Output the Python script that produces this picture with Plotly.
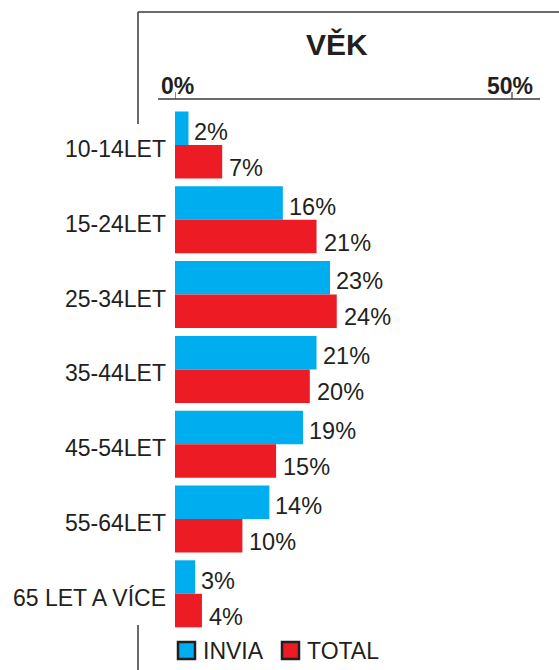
import plotly.graph_objects as go

categories = ["10-14LET", "15-24LET", "25-34LET", "35-44LET", "45-54LET", "55-64LET", "65 LET A VÍCE"]
invia = [2, 16, 23, 21, 19, 14, 3]
total = [7, 21, 24, 20, 15, 10, 4]
axis_ticks = [0, 50]
axis_tick_text = ["0%", "50%"]
series_names = ["INVIA", "TOTAL"]

W, H = 559, 670
BLUE = "#00aeef"
RED = "#ed1c24"
TXT = "#231f20"
LINE = "#3a3a3a"
FONT = "Liberation Sans, Arial, Helvetica, sans-serif"

def px(x):
    return x / W

def py(y):
    return 1 - y / H

# scale: 0% at 175px, 50% at 512px
x0_px, x50_px = 175, 512
ppu = (x50_px - x0_px) / 50.0
xmax = (W - x0_px) / ppu

# y: category 0 centre at 145px, pitch 74.8px
c0, pitch = 145, 74.8
y_top = 0 - c0 / pitch
y_bot = 6 + (H - (c0 + 6 * pitch)) / pitch

ypos = list(range(len(categories)))

fig = go.Figure()
fig.add_trace(go.Bar(orientation="h", x=invia, y=ypos, name=series_names[0],
                     marker=dict(color=BLUE, line=dict(width=0))))
fig.add_trace(go.Bar(orientation="h", x=total, y=ypos, name=series_names[1],
                     marker=dict(color=RED, line=dict(width=0))))

bargap = 0.104
half = (1 - bargap) / 4

annotations = []
for i, v in enumerate(invia):
    annotations.append(dict(x=v, y=i - half, xref="x", yref="y", text=f"{v}%",
                            showarrow=False, xanchor="left", yanchor="middle",
                            xshift=4, yshift=-3.5,
                            font=dict(family=FONT, size=23.5, color=TXT)))
for i, v in enumerate(total):
    annotations.append(dict(x=v, y=i + half, xref="x", yref="y", text=f"{v}%",
                            showarrow=False, xanchor="left", yanchor="middle",
                            xshift=5, yshift=-6,
                            font=dict(family=FONT, size=23.5, color=TXT)))

# title
annotations.append(dict(x=px(337), y=py(45), xref="paper", yref="paper", text="<b>VĚK</b>",
                        showarrow=False, xanchor="center", yanchor="middle",
                        font=dict(family=FONT, size=30, color=TXT)))
# axis tick labels
for t, lab in zip(axis_ticks, axis_tick_text):
    annotations.append(dict(x=t, y=py(86), xref="x", yref="paper", text=f"<b>{lab}</b>",
                            showarrow=False, xanchor="center", yanchor="middle",
                            xshift=2 if t == 0 else -2,
                            font=dict(family=FONT, size=23, color=TXT)))
# legend texts
annotations.append(dict(x=px(201), y=py(651), xref="paper", yref="paper", text=series_names[0],
                        showarrow=False, xanchor="left", yanchor="middle",
                        font=dict(family=FONT, size=23, color=TXT)))
annotations.append(dict(x=px(305), y=py(651), xref="paper", yref="paper", text=series_names[1],
                        showarrow=False, xanchor="left", yanchor="middle",
                        font=dict(family=FONT, size=23, color=TXT)))

shapes = []
# frame
shapes.append(dict(type="line", xref="paper", yref="paper", x0=px(138), x1=px(W), y0=py(12), y1=py(12),
                   line=dict(color=LINE, width=1.5)))
shapes.append(dict(type="line", xref="paper", yref="paper", x0=px(138), x1=px(138), y0=py(12), y1=py(124),
                   line=dict(color=LINE, width=1.5)))
shapes.append(dict(type="line", xref="paper", yref="paper", x0=px(138), x1=px(138), y0=py(625), y1=py(H),
                   line=dict(color=LINE, width=1.5)))
# axis line
shapes.append(dict(type="line", xref="paper", yref="paper", x0=px(158), x1=px(540), y0=py(99), y1=py(99),
                   line=dict(color=LINE, width=1.5)))
for t in axis_ticks:
    shapes.append(dict(type="line", xref="x", yref="paper", x0=t, x1=t, y0=py(99), y1=py(92),
                       line=dict(color=LINE, width=1.2)))
# legend boxes
shapes.append(dict(type="rect", xref="paper", yref="paper", x0=px(178), x1=px(195), y0=py(642), y1=py(659),
                   fillcolor=BLUE, line=dict(color=TXT, width=2.5)))
shapes.append(dict(type="rect", xref="paper", yref="paper", x0=px(282), x1=px(299), y0=py(642), y1=py(659),
                   fillcolor=RED, line=dict(color=TXT, width=2.5)))

fig.update_layout(
    width=W, height=H,
    margin=dict(l=0, r=0, t=0, b=0),
    paper_bgcolor="white", plot_bgcolor="white",
    barmode="group", bargap=bargap, bargroupgap=0,
    showlegend=False,
    xaxis=dict(domain=[px(x0_px), 1], range=[0, xmax], visible=False, fixedrange=True),
    yaxis=dict(domain=[0, 1], range=[y_bot, y_top], tickvals=ypos, ticktext=categories,
               showgrid=False, zeroline=False, showline=False, ticks="",
               ticklabelstandoff=8, ticklabelshift=-4,
               tickfont=dict(family=FONT, size=23, color=TXT), fixedrange=True),
    annotations=annotations, shapes=shapes,
    font=dict(family=FONT, color=TXT),
)

fig.write_html("out.html", config={"displayModeBar": False},
               post_script="document.body.style.margin='0';document.body.style.overflow='hidden';")
